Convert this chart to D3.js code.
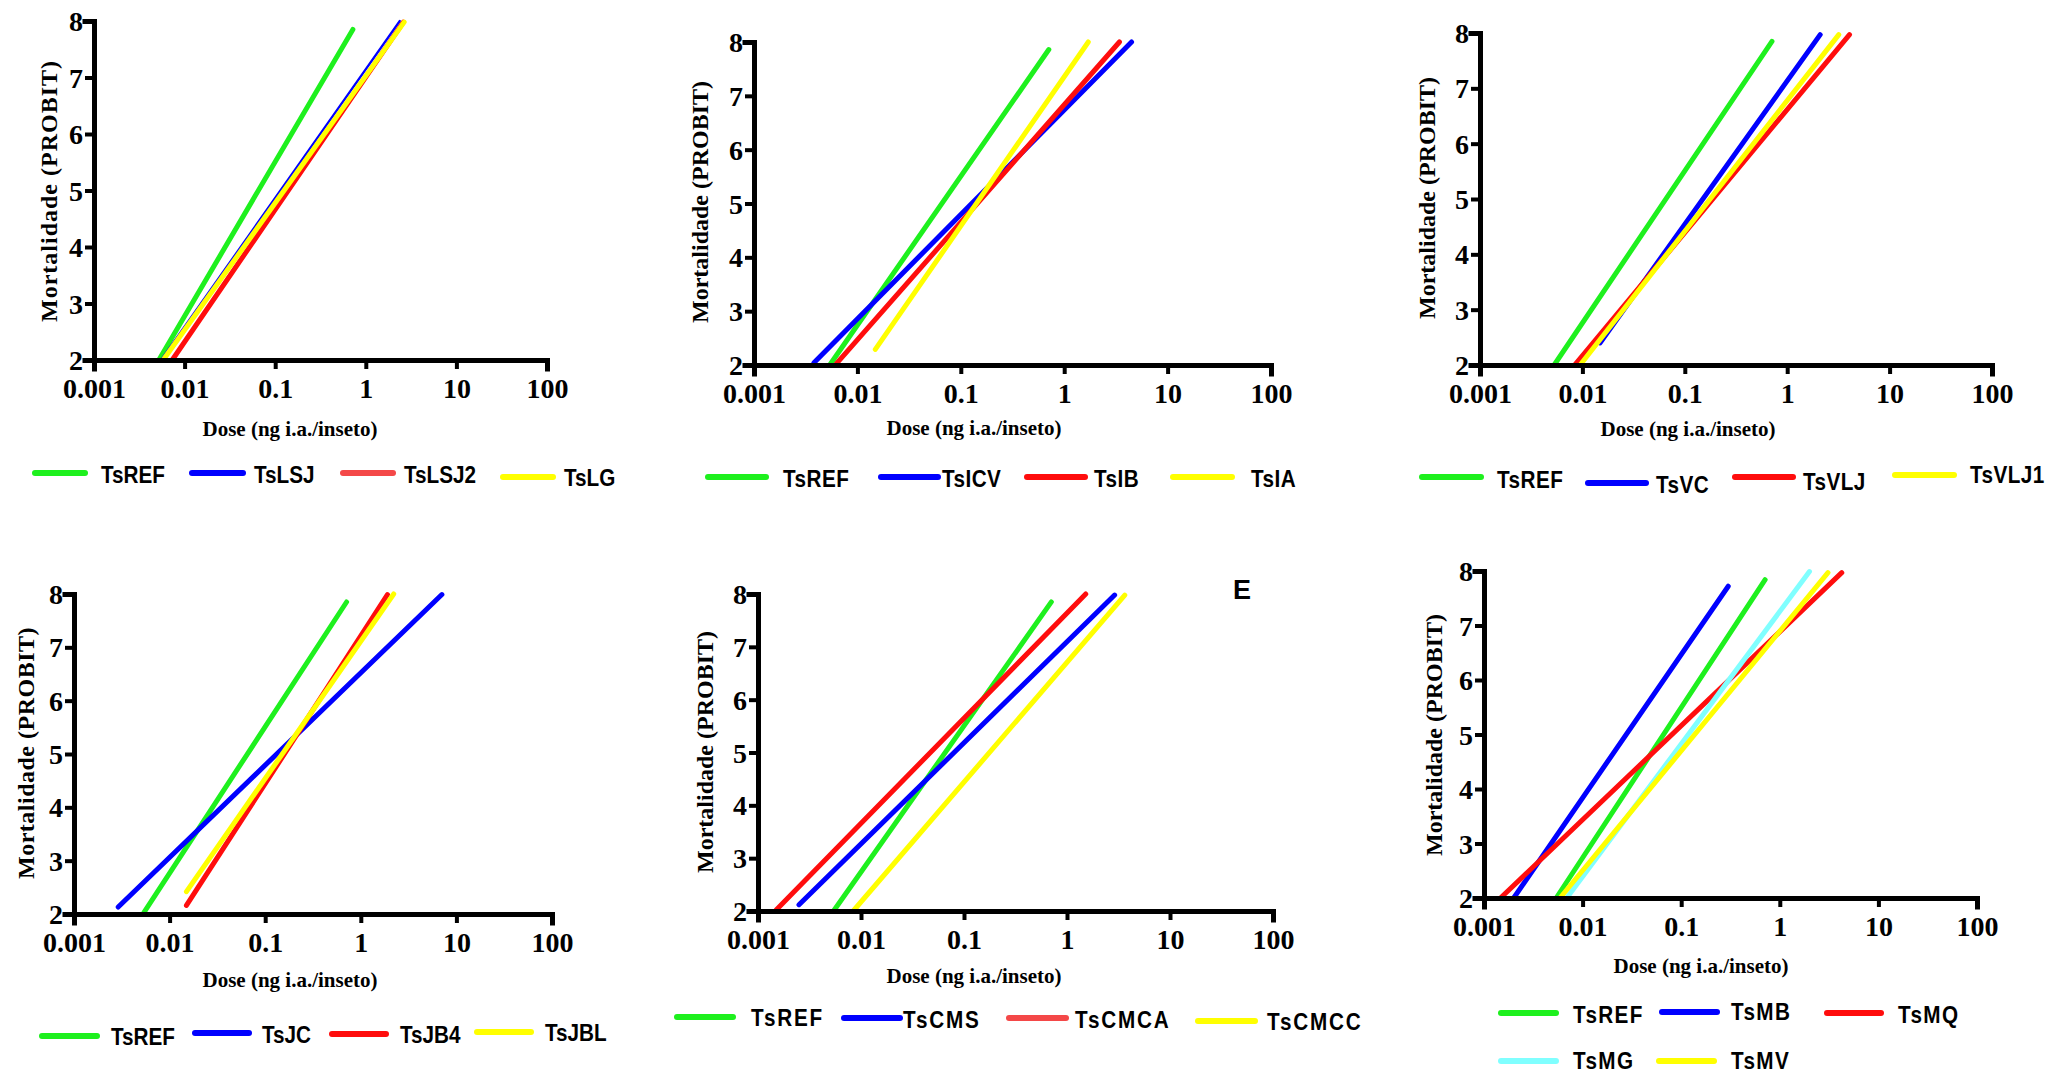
<!DOCTYPE html>
<html>
<head>
<meta charset="utf-8">
<script src="https://cdn.jsdelivr.net/npm/d3@7"></script>
<style>
  body { margin: 0; background: #fff; }
  svg { display: block; }
  .axis path, .axis line { stroke: #000; }
  .axis text { font-family: "Liberation Serif", "Times New Roman", serif; font-weight: bold; font-size: 28px; fill: #000; }
  .ytitle, .xtitle { font-family: "Liberation Serif", "Times New Roman", serif; font-weight: bold; fill: #000; }
  .legend text, .panel-tag { font-family: "Liberation Sans", Arial, sans-serif; font-weight: bold; fill: #000; }
</style>
</head>
<body>
<svg id="chart"></svg>
<script>
var doseTicks = [0.001, 0.01, 0.1, 1, 10, 100];
var probitTicks = [2, 3, 4, 5, 6, 7, 8];

// each fitted probit line: [name, dose at start, probit at start, dose at end, probit at end]
var linesA = [
  ["TsREF", 0.0052, 2.0, 0.72, 7.85],
  ["TsLSJ", 0.0055, 2.0, 2.37, 8.0],
  ["TsLSJ2", 0.0073, 2.0, 2.6, 7.98],
  ["TsLG", 0.0058, 2.0, 2.65, 7.98]
];
var linesB = [
  ["TsREF", 0.0054, 2.0, 0.71, 7.86],
  ["TsICV", 0.0038, 2.04, 4.48, 8.0],
  ["TsIB", 0.0063, 2.03, 3.42, 8.0],
  ["TsIA", 0.0149, 2.29, 1.71, 8.0]
];
var linesC = [
  ["TsREF", 0.0053, 2.0, 0.71, 7.85],
  ["TsVC", 0.0149, 2.4, 2.10, 7.97],
  ["TsVLJ", 0.0084, 2.0, 4.06, 7.97],
  ["TsVLJ1", 0.0095, 2.0, 3.19, 7.97]
];
var linesD = [
  ["TsREF", 0.0054, 2.03, 0.71, 7.85],
  ["TsJC", 0.0029, 2.13, 7.05, 7.99],
  ["TsJB4", 0.015, 2.16, 1.90, 7.99],
  ["TsJBL", 0.015, 2.42, 2.21, 8.0]
];
var linesE = [
  ["TsREF", 0.0055, 2.02, 0.705, 7.85],
  ["TsCMS", 0.0025, 2.12, 2.90, 7.98],
  ["TsCMCA", 0.0015, 2.02, 1.52, 8.0],
  ["TsCMCC", 0.0084, 2.0, 3.64, 7.98]
];
var linesF = [
  ["TsREF", 0.0054, 2.0, 0.71, 7.84],
  ["TsMB", 0.0020, 2.0, 0.30, 7.72],
  ["TsMQ", 0.00147, 2.0, 4.25, 7.97],
  ["TsMG", 0.0069, 2.0, 2.0, 7.99],
  ["TsMV", 0.0059, 2.0, 3.08, 7.97]
];

var green = "#1ef01e", blue = "#0000ff", red = "#ff0d0d", paleRed = "#f44848",
    yellow = "#ffff00", cyan = "#80ffff";

var width = 2053, height = 1076;

var svg = d3.select("#chart")
  .attr("width", width)
  .attr("height", height);

// frame: axis box in pixels; legend rows: [line x0, line x1, line y, text x, text baseline]
var panels = [
  { lines: linesA, colors: [green, blue, red, yellow], keyColors: [green, blue, paleRed, yellow],
    widths: [5, 2.2, 5, 5],
    frame: { L: 94, R: 547, T: 21, B: 360 }, yTitle: [57, 191, 1], xTitle: [290, 436],
    legend: [[35, 85, 473, 101, 483], [192, 243, 473, 254, 483], [343, 393, 473, 404, 483], [503, 553, 477, 564, 486]],
    keySpacing: 0 },
  { lines: linesB, colors: [green, blue, red, yellow], keyColors: [green, blue, red, yellow],
    widths: [5, 5, 5, 5],
    frame: { L: 754, R: 1271, T: 42, B: 365 }, yTitle: [708, 202, 0], xTitle: [974, 435],
    legend: [[708, 766, 477, 783, 487], [881, 938, 477, 942, 487], [1027, 1085, 477, 1094, 487], [1173, 1232, 477, 1251, 487]],
    keySpacing: 0.5 },
  { lines: linesC, colors: [green, blue, red, yellow], keyColors: [green, blue, red, yellow],
    widths: [5, 5, 5, 5],
    frame: { L: 1480, R: 1992, T: 33, B: 365 }, yTitle: [1435, 198, 0], xTitle: [1688, 436],
    legend: [[1422, 1481, 477, 1497, 488], [1588, 1646, 483, 1656, 493], [1735, 1793, 477, 1803, 490], [1895, 1954, 475, 1970, 483]],
    keySpacing: 0.5 },
  { lines: linesD, colors: [green, blue, red, yellow], keyColors: [green, blue, red, yellow],
    widths: [5, 5, 5, 5],
    frame: { L: 74, R: 552, T: 594, B: 914 }, yTitle: [34, 753, 0.5], xTitle: [290, 987],
    legend: [[42, 97, 1036, 111, 1045], [195, 249, 1033, 262, 1043], [332, 386, 1034, 400, 1043], [477, 531, 1032, 545, 1041]],
    keySpacing: 0 },
  { lines: linesE, colors: [green, blue, red, yellow], keyColors: [green, blue, paleRed, yellow],
    widths: [5, 5, 5, 5],
    frame: { L: 758, R: 1273, T: 594, B: 911 }, yTitle: [713, 752, 0], xTitle: [974, 983],
    legend: [[677, 733, 1017, 751, 1026], [844, 900, 1018, 903, 1028], [1009, 1066, 1018, 1075, 1028], [1198, 1255, 1021, 1267, 1030]],
    keySpacing: 2, tag: ["E", 1233, 599] },
  { lines: linesF, colors: [green, blue, red, cyan, yellow], keyColors: [green, blue, red, cyan, yellow],
    widths: [5, 5, 5, 5, 5],
    frame: { L: 1484, R: 1977, T: 571, B: 898 }, yTitle: [1442, 735, 0], xTitle: [1701, 973],
    legend: [[1501, 1556, 1013, 1573, 1023], [1662, 1717, 1012, 1731, 1020], [1827, 1881, 1013, 1898, 1023],
             [1501, 1556, 1061, 1573, 1069], [1659, 1714, 1061, 1731, 1069]],
    keySpacing: 1.5 }
];

panels.forEach(drawPanel);

function drawPanel(p) {
  var f = p.frame;

  var x = d3.scaleLog()
    .domain([0.001, 100])
    .range([f.L, f.R]);

  var y = d3.scaleLinear()
    .domain([2, 8])
    .range([f.B, f.T]);

  var g = svg.append("g");

  // probit regression lines
  g.selectAll("line.fit")
    .data(p.lines)
    .enter().append("line")
    .attr("class", "fit")
    .attr("x1", function(d) { return x(d[1]); })
    .attr("y1", function(d) { return y(d[2]); })
    .attr("x2", function(d) { return x(d[3]); })
    .attr("y2", function(d) { return y(d[4]); })
    .attr("stroke", function(d, i) { return p.colors[i]; })
    .attr("stroke-width", function(d, i) { return p.widths[i]; })
    .attr("stroke-linecap", "round");

  var xAxis = g.append("g")
    .attr("class", "axis")
    .attr("transform", "translate(0," + f.B + ")")
    .call(d3.axisBottom(x)
      .tickValues(doseTicks)
      .tickFormat(function(d) { return d; })
      .tickSizeOuter(0)
      .tickSize(9)
      .tickPadding(11));

  var yAxis = g.append("g")
    .attr("class", "axis")
    .attr("transform", "translate(" + f.L + ",0)")
    .call(d3.axisLeft(y)
      .tickValues(probitTicks)
      .tickFormat(d3.format("d"))
      .tickSizeOuter(0)
      .tickSize(9)
      .tickPadding(2));

  g.selectAll(".axis .domain")
    .attr("stroke-width", 5)
    .attr("stroke-linecap", "square");
  g.selectAll(".axis .tick line")
    .attr("stroke-width", 4);
  xAxis.selectAll("text")
    .attr("dy", null)
    .attr("y", 38)
    .attr("dominant-baseline", "auto");
  yAxis.selectAll("text")
    .attr("dy", "0.34em");

  g.append("text")
    .attr("class", "ytitle")
    .attr("transform", "translate(" + p.yTitle[0] + "," + p.yTitle[1] + ") rotate(-90)")
    .attr("text-anchor", "middle")
    .style("font-size", "24px")
    .style("letter-spacing", p.yTitle[2] + "px")
    .text("Mortalidade (PROBIT)");

  g.append("text")
    .attr("class", "xtitle")
    .attr("x", p.xTitle[0])
    .attr("y", p.xTitle[1])
    .attr("text-anchor", "middle")
    .style("font-size", "21px")
    .text("Dose (ng i.a./inseto)");

  var key = g.append("g").attr("class", "legend");

  key.selectAll("line")
    .data(p.legend)
    .enter().append("line")
    .attr("x1", function(d) { return d[0]; })
    .attr("x2", function(d) { return d[1]; })
    .attr("y1", function(d) { return d[2]; })
    .attr("y2", function(d) { return d[2]; })
    .attr("stroke", function(d, i) { return p.keyColors[i]; })
    .attr("stroke-width", 6)
    .attr("stroke-linecap", "round");

  key.selectAll("text")
    .data(p.legend)
    .enter().append("text")
    .attr("transform", function(d) { return "translate(" + d[3] + "," + d[4] + ") scale(0.9,1)"; })
    .style("font-size", "23px")
    .style("letter-spacing", p.keySpacing + "px")
    .text(function(d, i) { return p.lines[i][0]; });

  if (p.tag) {
    g.append("text")
      .attr("class", "panel-tag")
      .attr("x", p.tag[1])
      .attr("y", p.tag[2])
      .style("font-size", "27px")
      .text(p.tag[0]);
  }
}
</script>
</body>
</html>
